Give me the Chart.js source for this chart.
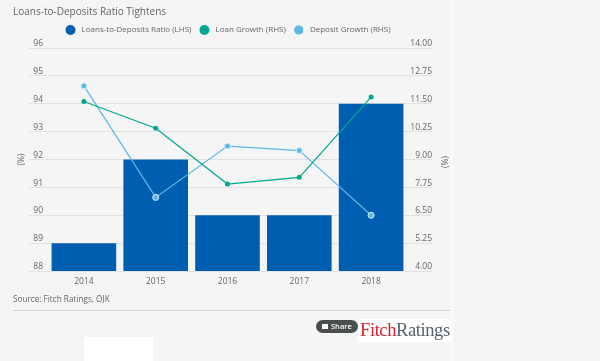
<!DOCTYPE html>
<html>
<head>
<meta charset="utf-8">
<script src="https://cdn.jsdelivr.net/npm/chart.js@4"></script>
<style>
html,body{margin:0;padding:0;background:#f5f5f5;width:600px;height:361px;overflow:hidden;font-family:"Open Sans",sans-serif;color:#666}
#wrap{position:absolute;left:0;top:0;width:600px;height:361px}
.abs{position:absolute;white-space:nowrap}
#divider{left:451px;top:0;width:2px;height:361px;background:#fbfbfb}
#rule{left:13px;top:310px;width:437px;height:1px;background:#cfcfcf}
#blank{left:84px;top:337px;width:69px;height:24px;background:#fff}
#source{left:13px;top:292px;font-size:8.2px;line-height:14px}
#rhs{left:436px;top:155px;font-size:8.5px;line-height:14px;transform:rotate(-90deg);width:18px;text-align:center}
#share{left:316px;top:320px;width:42px;height:13px;border-radius:7px;background:#4a4f4d;color:#fff;font-size:7.5px;font-weight:600;line-height:13px;text-indent:15px}
#share i{position:absolute;left:6px;top:4px;width:6px;height:5px;background:#fff}
#logo{left:358px;top:319px;width:93px;height:23px;background:#fff;font-family:"Liberation Serif",serif;font-size:18.5px;line-height:22px;letter-spacing:-.4px;color:#55626d;overflow:hidden;text-indent:2px}
#logo b{font-weight:400;color:#d8232f}
</style>
</head>
<body>
<div id="wrap">
<canvas id="fitchChart" width="600" height="361"></canvas>
<div class="abs" id="divider"></div>
<div class="abs" id="rule"></div>
<div class="abs" id="blank"></div>
<div class="abs" id="source">Source: Fitch Ratings, OJK</div>
<div class="abs" id="rhs">(%)</div>
<div class="abs" id="share"><i></i>Share</div>
<div class="abs" id="logo"><b>Fitch</b>Ratings</div>
</div>
<script>
const years = ['2014','2015','2016','2017','2018'];
const ratio = [89,92,90,90,94];
const loanGrowth = [11.6,10.4,7.9,8.2,11.8];
const depositGrowth = [12.3,7.3,9.6,9.4,6.5];

const textColor = '#666';
const gridColor = '#e2e2e2';
Chart.defaults.font.family = '"Open Sans", sans-serif';
Chart.defaults.font.size = 8.5;
Chart.defaults.color = textColor;

new Chart(document.getElementById('fitchChart'), {
    data: {
        labels: years,
        datasets: [{
            type: 'line',
            label: ' Loan Growth (RHS)',
            data: loanGrowth,
            yAxisID: 'right',
            borderColor: '#00a88f',
            backgroundColor: '#00a88f',
            borderWidth: 1.2,
            pointRadius: 2.5,
            pointBorderWidth: 0,
            tension: 0,
            order: 1,
        },{
            type: 'line',
            label: ' Deposit Growth (RHS)',
            data: depositGrowth,
            yAxisID: 'right',
            borderColor: '#5bb8e6',
            backgroundColor: '#5bb8e6',
            borderWidth: 1.2,
            pointRadius: 3,
            pointBorderWidth: 1,
            pointBorderColor: '#dff1fa',
            tension: 0,
            order: 1,
        },{
            type: 'bar',
            label: ' Loans-to-Deposits Ratio (LHS)',
            data: ratio,
            yAxisID: 'left',
            backgroundColor: '#005eb0',
            barPercentage: 0.9,
            categoryPercentage: 1,
            order: 2,
        }],
    },
    options: {
        responsive: false,
        animation: false,
        layout: { padding: { left: 13, right: 157, top: 6, bottom: 70 } },
        plugins: {
            title: {
                display: true,
                text: 'Loans-to-Deposits Ratio Tightens',
                align: 'start',
                color: textColor,
                font: { size: 10, weight: 'normal' },
                padding: { top: 0, bottom: 0 },
            },
            legend: {
                position: 'top',
                labels: {
                    usePointStyle: true,
                    pointStyle: 'circle',
                    pointStyleWidth: 10,
                    boxHeight: 7,
                    padding: 8,
                    color: textColor,
                    font: { size: 8 },
                    sort: (a, b) => b.datasetIndex === 2 ? 1 : (a.datasetIndex === 2 ? -1 : a.datasetIndex - b.datasetIndex),
                },
            },
            tooltip: { enabled: false },
        },
        scales: {
            x: {
                grid: { display: false, drawTicks: false },
                border: { display: false },
                ticks: { padding: 5, font: { size: 8.5 } },
                afterFit: (s) => { s.height = 20; },
            },
            // empty scale, only keeps a gap under the legend
            spacer: {
                axis: 'x',
                type: 'category',
                position: 'top',
                grid: { display: false, drawTicks: false },
                border: { display: false },
                ticks: { display: false },
                afterFit: (s) => { s.height = 4; },
            },
            left: {
                position: 'left',
                min: 88,
                max: 96,
                border: { display: false },
                grid: { color: gridColor, tickLength: 19, tickColor: gridColor },
                ticks: {
                    stepSize: 1,
                    align: 'end',
                    padding: -14,
                    font: { size: 8.5 },
                },
                title: { display: true, text: '(%)', font: { size: 8.5 }, padding: 3 },
                afterFit: (s) => { s.width = 35; },
            },
            right: {
                position: 'right',
                min: 4,
                max: 14,
                border: { display: false },
                grid: { color: gridColor, tickLength: 25, tickColor: gridColor },
                ticks: {
                    stepSize: 1.25,
                    align: 'end',
                    mirror: true,
                    padding: 25,
                    font: { size: 8.5 },
                    callback: (v) => v.toFixed(2),
                },
                afterFit: (s) => { s.width = 36; },
            },
        },
    },
});
</script>
</body>
</html>
